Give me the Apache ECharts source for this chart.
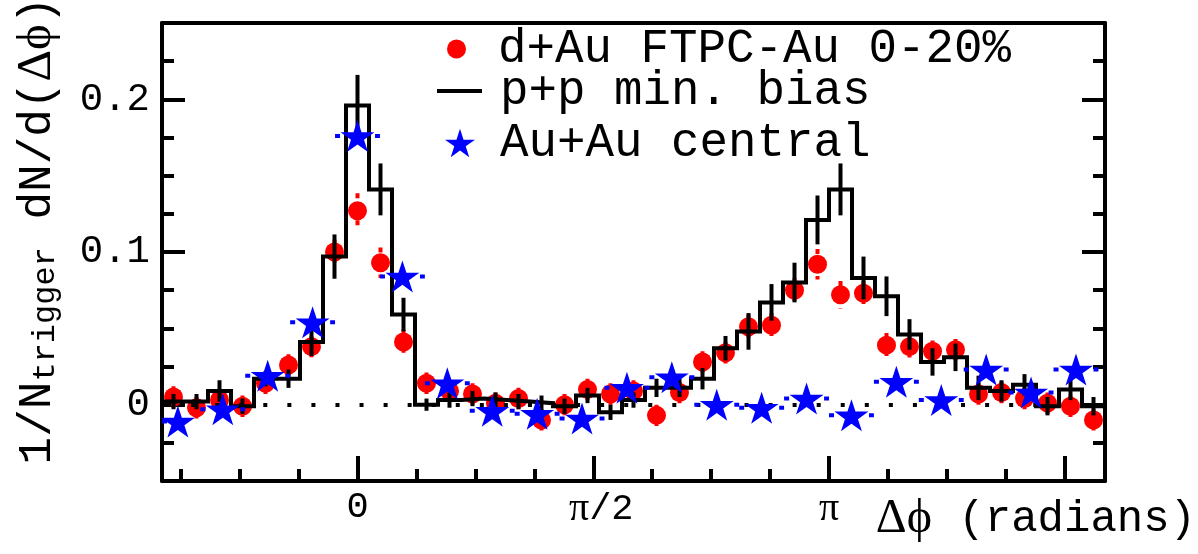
<!DOCTYPE html>
<html><head><meta charset="utf-8">
<script src="https://cdn.jsdelivr.net/npm/echarts@6/dist/echarts.min.js"></script>
<style>html,body{margin:0;padding:0;background:#fff}#c{width:1198px;height:554px}</style>
</head><body><div id="c"></div>
<script>
const TWO_PI = 2 * Math.PI;
// ---- binning (bins over the full 2π range) ----
const DAU_NBINS = 41, DAU_FIRST = -8;     // d+Au and p+p: 41 bins, first shown bin index
const AUAU_NBINS = 21, AUAU_FIRST = -4;   // Au+Au: 21 bins
const X_MIN = -8.5 * TWO_PI / 41, X_MAX = 32.5 * TWO_PI / 41;
const Y_MIN = -0.05, Y_MAX = 0.25;

// ---- data ----
const ppValues = [0.002, 0.002, 0.009, -0.001, 0.017, 0.017, 0.041, 0.097, 0.196, 0.141, 0.059,
  0.000, 0.003, 0.004, 0.003, 0.002, 0.001, -0.001, 0.006, -0.005, 0.003, 0.011, 0.011,
  0.017, 0.037, 0.048, 0.067, 0.080, 0.121, 0.141, 0.083, 0.071, 0.046, 0.028, 0.031,
  0.011, 0.009, 0.013, -0.001, 0.010, -0.001];
const ppErrors = [0.005, 0.005, 0.007, 0.005, 0.005, 0.006, 0.009, 0.0145, 0.020, 0.017, 0.011,
  0.004, 0.005, 0.005, 0.005, 0.005, 0.005, 0.005, 0.005, 0.005, 0.005, 0.006, 0.006,
  0.007, 0.008, 0.012, 0.012, 0.013, 0.016, 0.017, 0.014, 0.013, 0.010, 0.009, 0.009,
  0.008, 0.007, 0.007, 0.006, 0.007, 0.006];
const dAuValues = [0.005, -0.002, 0.003, -0.001, 0.014, 0.026, 0.038, 0.100, 0.127, 0.093, 0.041,
  0.014, 0.009, 0.007, 0.001, 0.004, -0.010, 0.000, 0.010, 0.007, 0.009, -0.007, 0.008,
  0.028, 0.034, 0.051, 0.052, 0.075, 0.092, 0.072, 0.073, 0.039, 0.038, 0.035, 0.036,
  0.007, 0.008, 0.004, 0.001, -0.001, -0.010];
const dAuErrors = [0.007, 0.007, 0.007, 0.007, 0.007, 0.007, 0.007, 0.008, 0.0115, 0.010, 0.008,
  0.007, 0.007, 0.007, 0.007, 0.007, 0.007, 0.007, 0.007, 0.007, 0.007, 0.007, 0.007,
  0.007, 0.007, 0.008, 0.008, 0.008, 0.010, 0.009, 0.008, 0.008, 0.008, 0.007, 0.007,
  0.007, 0.007, 0.007, 0.007, 0.007, 0.007];
const auauValues = [-0.011, -0.003, 0.019, 0.054, 0.176, 0.084, 0.014, -0.004, -0.006, -0.009,
  0.011, 0.018, 0.000, -0.002, 0.004, -0.007, 0.015, 0.003, 0.023, 0.008, 0.023];

// ---- tick / label definitions ----
const xMajorTicks = [0, Math.PI / 2, Math.PI, 1.5 * Math.PI];
const xLabelValues = [0, Math.PI / 2, Math.PI];
const xLabelTexts = ['0', '{q|π}/2', '{p|π}'];
const xMinorTickMultiples = [-3, -2, -1, 0, 1, 2, 3, 4, 5, 6, 7, 8, 9, 10, 11, 12]; // × π/8
const yMajorTicks = [0, 0.1, 0.2];
const yLabelTexts = ['0', '0.1', '0.2'];
const yMinorTicks = [-0.025, 0, 0.025, 0.05, 0.075, 0.1, 0.125, 0.15, 0.175, 0.2, 0.225];

const seriesNames = ['d+Au FTPC-Au 0-20%', 'p+p min. bias', 'Au+Au central'];

// ---- derived tables ----
const dW = TWO_PI / DAU_NBINS, aW = TWO_PI / AUAU_NBINS;
const dauCenters = dAuValues.map((_, i) => (DAU_FIRST + i) * dW);
const ppStep = [];
ppValues.forEach((v, i) => { const c = (DAU_FIRST + i) * dW; ppStep.push([c - dW / 2, v], [c + dW / 2, v]); });
const ppErr = ppValues.map((v, i) => [(DAU_FIRST + i) * dW, v, ppErrors[i]]);
const dauPts = dAuValues.map((v, i) => [dauCenters[i], v]);
const dauErr = dAuValues.map((v, i) => [dauCenters[i], v, dAuErrors[i]]);
const auauPts = auauValues.map((v, i) => [(AUAU_FIRST + i) * aW, v]);
const auauErr = auauValues.map((v, i) => [(AUAU_FIRST + i) * aW, v, aW / 2]);
const xMinorTicks = xMinorTickMultiples.map(k => k * Math.PI / 8);

const STAR = 'path://M0,-10L2.245,-3.09L9.511,-3.09L3.633,1.18L5.878,8.09L0,3.82L-5.878,8.09L-3.633,1.18L-9.511,-3.09L-2.245,-3.09Z';
const MONO = 'Liberation Mono', SERIF = 'Liberation Serif';

function vErr(color, width, dash) {
  return function (params, api) {
    const x = api.value(0), y = api.value(1), e = api.value(2);
    const p1 = api.coord([x, y + e]), p2 = api.coord([x, y - e]);
    return { type: 'line', shape: { x1: p1[0], y1: p1[1], x2: p2[0], y2: p2[1] },
      style: { stroke: color, lineWidth: width, lineDash: dash || null } };
  };
}
function hErr(params, api) {
  const x = api.value(0), y = api.value(1), e = api.value(2);
  const p1 = api.coord([Math.max(X_MIN, x - e), y]), p2 = api.coord([Math.min(X_MAX, x + e), y]);
  return { type: 'line', shape: { x1: p1[0], y1: p1[1], x2: p2[0], y2: p2[1] },
    style: { stroke: '#0000ff', lineWidth: 4, lineDash: [5, 35] } };
}
function lookup(vals, texts) {
  return function (v) { for (let i = 0; i < vals.length; i++) if (Math.abs(v - vals[i]) < 1e-9) return texts[i]; return ''; };
}

const gridRect = { left: 162, right: 93, top: 23, bottom: 73, containLabel: false, outerBoundsMode: 'none' };
const axisLine = { show: true, onZero: false, lineStyle: { color: '#000', width: 4 } };
const noLine = { show: false, onZero: false };

const chart = echarts.init(document.getElementById('c'), null, { renderer: 'canvas' });
chart.setOption({
  animation: false,
  backgroundColor: '#fff',
  textStyle: { fontFamily: MONO, color: '#000' },
  grid: [Object.assign({}, gridRect), Object.assign({}, gridRect)],
  xAxis: [
    { gridIndex: 0, type: 'value', position: 'bottom', min: X_MIN, max: X_MAX, axisLine: axisLine,
      axisTick: { show: true, inside: true, length: 25, customValues: xMajorTicks, lineStyle: { color: '#000', width: 4 } },
      axisLabel: { show: true, customValues: xLabelValues, formatter: lookup(xLabelValues, xLabelTexts),
        fontFamily: MONO, fontSize: 37, color: '#000', margin: 8,
        rich: { p: { fontFamily: SERIF, fontSize: 40, color: '#000' },
                q: { fontFamily: SERIF, fontSize: 40, color: '#000', padding: [0, 0, 0, 16] } } },
      splitLine: { show: false },
      name: '{g|Δϕ}{m| (radians)}', nameLocation: 'end', nameGap: 91,
      nameTextStyle: { align: 'right', verticalAlign: 'top', padding: [14, 0, 0, 0],
        rich: { g: { fontFamily: SERIF, fontSize: 48, color: '#000' }, m: { fontFamily: MONO, fontSize: 44, color: '#000' } } } },
    { gridIndex: 0, type: 'value', position: 'top', min: X_MIN, max: X_MAX, axisLine: axisLine,
      axisTick: { show: false }, axisLabel: { show: false }, splitLine: { show: false } },
    { gridIndex: 1, type: 'value', position: 'bottom', min: X_MIN, max: X_MAX, axisLine: noLine,
      axisTick: { show: true, inside: true, length: 12, customValues: xMinorTicks, lineStyle: { color: '#000', width: 4 } },
      axisLabel: { show: false }, splitLine: { show: false } }
  ],
  yAxis: [
    { gridIndex: 0, type: 'value', position: 'left', min: Y_MIN, max: Y_MAX, axisLine: axisLine,
      axisTick: { show: true, inside: true, length: 23, customValues: yMajorTicks, lineStyle: { color: '#000', width: 4 } },
      axisLabel: { show: true, customValues: yMajorTicks, formatter: lookup(yMajorTicks, yLabelTexts),
        fontFamily: MONO, fontSize: 39, color: '#000', margin: 12 },
      splitLine: { show: false },
      name: '{m|1/N}{s|trigger}{m| dN/d(}{g|Δϕ}{m|)}', nameLocation: 'middle', nameRotate: 90, nameGap: 100,
      nameTextStyle: { padding: [0, 0, 0, 43], rich: {
        m: { fontFamily: MONO, fontSize: 46, color: '#000' },
        s: { fontFamily: MONO, fontSize: 32, color: '#000', verticalAlign: 'bottom' },
        g: { fontFamily: SERIF, fontSize: 49, color: '#000' } } } },
    { gridIndex: 0, type: 'value', position: 'right', min: Y_MIN, max: Y_MAX, axisLine: axisLine,
      axisTick: { show: true, inside: true, length: 23, customValues: yMajorTicks, lineStyle: { color: '#000', width: 4 } },
      axisLabel: { show: false }, splitLine: { show: false } },
    { gridIndex: 1, type: 'value', position: 'left', min: Y_MIN, max: Y_MAX, axisLine: noLine,
      axisTick: { show: true, inside: true, length: 12, customValues: yMinorTicks, lineStyle: { color: '#000', width: 4 } },
      axisLabel: { show: false }, splitLine: { show: false } },
    { gridIndex: 1, type: 'value', position: 'right', min: Y_MIN, max: Y_MAX, axisLine: noLine,
      axisTick: { show: true, inside: true, length: 12, customValues: yMinorTicks, lineStyle: { color: '#000', width: 4 } },
      axisLabel: { show: false }, splitLine: { show: false } }
  ],
  legend: [
    { data: [{ name: seriesNames[0], icon: 'circle' }], left: 442, top: 20, itemWidth: 19, itemHeight: 19,
      selectedMode: false, textStyle: { fontFamily: MONO, fontSize: 47.5, lineHeight: 46, color: '#000', padding: [0, 0, 0, 27] } },
    { data: [{ name: seriesNames[1], icon: 'rect' }], left: 432, top: 62, itemWidth: 45, itemHeight: 4,
      selectedMode: false, textStyle: { fontFamily: MONO, fontSize: 47.5, lineHeight: 46, color: '#000', padding: [0, 0, 0, 13] } },
    { data: [{ name: seriesNames[2], icon: STAR }], left: 440, top: 114, itemWidth: 30, itemHeight: 32,
      selectedMode: false, textStyle: { fontFamily: MONO, fontSize: 47.5, lineHeight: 46, color: '#000', padding: [0, 0, 0, 20] } }
  ],
  series: [
    { name: 'zero', type: 'line', data: [], silent: true, z: 1,
      markLine: { silent: true, symbol: 'none', label: { show: false },
        lineStyle: { color: '#000', width: 4, type: [4, 20.06], dashOffset: 19 }, data: [{ yAxis: 0 }] } },
    { name: seriesNames[0] + ' err', type: 'custom', z: 2, data: dauErr, encode: { x: 0, y: 1 },
      renderItem: vErr('#ff0000', 4, [5, 4]), silent: true },
    { name: seriesNames[0], type: 'scatter', z: 3, data: dauPts, symbol: 'circle', symbolSize: 19,
      itemStyle: { color: '#ff0000', opacity: 1 } },
    { name: seriesNames[1], type: 'line', z: 4, data: ppStep, symbol: 'none', showSymbol: false,
      itemStyle: { color: '#000' }, lineStyle: { color: '#000', width: 4, join: 'miter' } },
    { name: seriesNames[1] + ' err', type: 'custom', z: 4, data: ppErr, encode: { x: 0, y: 1 },
      renderItem: vErr('#000', 4), silent: true },
    { name: seriesNames[2] + ' err', type: 'custom', z: 5, data: auauErr, encode: { x: 0, y: 1 },
      renderItem: hErr, silent: true },
    { name: seriesNames[2], type: 'scatter', z: 6, data: auauPts, symbol: STAR, symbolSize: [34, 32],
      itemStyle: { color: '#0000ff', opacity: 1 } }
  ]
});
</script></body></html>
